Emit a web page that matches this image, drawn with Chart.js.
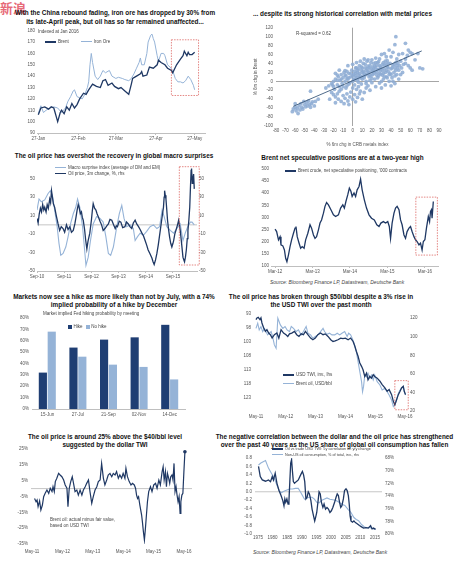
<!DOCTYPE html>
<html><head><meta charset="utf-8">
<script src="https://cdn.jsdelivr.net/npm/chart.js@4.4.1/dist/chart.umd.min.js"></script>
<style>
body{margin:0;width:457px;height:565px;background:#fff;position:relative;overflow:hidden;font-family:'Liberation Sans',Arial,sans-serif;}
canvas{position:absolute;}
.t{position:absolute;font-weight:bold;font-size:6.4px;line-height:8.5px;text-align:center;color:#111;white-space:nowrap;}
.s{position:absolute;font-size:4.5px;line-height:5.5px;color:#444;white-space:nowrap;}
.src{position:absolute;font-style:italic;font-size:5px;color:#444;white-space:nowrap;}
.sw{display:inline-block;width:11px;height:1.2px;vertical-align:middle;margin-right:2px;}
.sq{display:inline-block;width:4px;height:4px;vertical-align:middle;margin-right:1.5px;}
.wm{position:absolute;left:0;top:-2px;font-family:'Noto Sans CJK SC';font-weight:bold;font-size:13px;color:rgba(220,40,60,0.7);}
</style></head><body>
<div class="wm">新浪</div>

<div class="t" style="left:0;top:9px;width:230px">With the China rebound fading, iron ore has dropped by 30% from<br>its late-April peak, but oil has so far remained unaffected...</div>
<div class="t" style="left:228px;top:10px;width:229px">... despite its strong historical correlation with metal prices</div>
<div class="t" style="left:0;top:152px;width:228px">The oil price has overshot the recovery in global macro surprises</div>
<div class="t" style="left:228px;top:154px;width:229px">Brent net speculative positions are at a two-year high</div>
<div class="t" style="left:0;top:292.5px;width:228px">Markets now see a hike as more likely than not by July, with a 74%<br>implied probability of a hike by December</div>
<div class="t" style="left:228px;top:292.5px;width:186px">The oil price has broken through $50/bbl despite a 3% rise in<br>the USD TWI over the past month</div>
<div class="t" style="left:0;top:432.5px;width:210px">The oil price is around 25% above the $40/bbl level<br>suggested by the dollar TWI</div>
<div class="t" style="left:212px;top:432.5px;width:245px">The negative correlation between the dollar and the oil price has strengthened<br>over the past 40 years as the US share of global oil consumption has fallen</div>

<canvas id="c1" width="228" height="119" style="left:0;top:26px"></canvas>
<canvas id="c2" width="229" height="126" style="left:228px;top:22px"></canvas>
<canvas id="c3" width="228" height="121" style="left:0;top:162px"></canvas>
<canvas id="c4" width="229" height="115" style="left:228px;top:163px"></canvas>
<canvas id="c5" width="228" height="109" style="left:0;top:312px"></canvas>
<canvas id="c6" width="229" height="116" style="left:228px;top:308px"></canvas>
<canvas id="c7" width="228" height="113" style="left:0;top:443px"></canvas>
<canvas id="c8" width="229" height="93" style="left:228px;top:452px"></canvas>

<div class="s" style="left:38px;top:29px">Indexed at Jan 2016</div>
<div class="s" style="left:45px;top:39px"><span class="sw" style="background:#1f3864;height:1.6px"></span>Brent<span style="display:inline-block;width:12px"></span><span class="sw" style="background:#95b3d7"></span>Iron Ore</div>
<div class="s" style="left:296px;top:31px">R-squared = 0.62</div>
<div class="s" style="left:55px;top:165px"><span class="sw" style="background:#95b3d7"></span>Macro surprise index (average of DM and EM)<br><span class="sw" style="background:#1f3864;height:1.6px"></span>Oil price, 3m change, %, rhs</div>
<div class="s" style="left:285px;top:168px"><span class="sw" style="background:#1f3864;height:1.6px"></span>Brent crude, net speculative positioning, '000 contracts</div>
<div class="src" style="left:270px;top:279px">Source: Bloomberg Finance LP, Datastream, Deutsche Bank</div>
<div class="s" style="left:43px;top:311px">Market implied Fed hiking probability by meeting</div>
<div class="s" style="left:68px;top:324px"><span class="sq" style="background:#1f3e73"></span>Hike <span class="sq" style="background:#95b3d7;margin-left:2px"></span>No hike</div>
<div class="s" style="left:283px;top:372px"><span class="sw" style="background:#1f3864;height:1.6px"></span>USD TWI, inv., lhs</div>
<div class="s" style="left:283px;top:381px"><span class="sw" style="background:#95b3d7"></span>Brent oil, USD/bbl</div>
<div class="s" style="left:50px;top:517px">Brent oil: actual minus fair value,<br>based on USD TWI</div>
<div class="s" style="left:272px;top:447px;font-size:3.8px;line-height:5.5px"><span class="sw" style="background:#1f3864;height:1.6px"></span>Oil vs trade USD TWI: 5y correlation on y/y change<br><span class="sw" style="background:#95b3d7"></span>Non-US oil consumption, % of total, inv., rhs</div>
<div class="src" style="left:253px;top:548.5px">Source: Bloomberg Finance LP, Datastream, Deutsche Bank</div>

<script>
// ---------- data ----------
// 1. Brent vs iron ore, days since 27-Jan-2016
const p1Ticks = [0, 31, 60, 91, 121];
const p1TickLabels = ['27-Jan', '27-Feb', '27-Mar', '27-Apr', '27-May'];
const p1Brent = [[0,106],[2,112],[5,113],[8,111],[10,113],[12,112],[13,108],[14,104],[15,100],[17,108],[18,110],[20,107],[22,113],[24,110],[26,116],[28,112],[30,115],[32,120],[35,125],[37,124],[39,128],[42,133],[45,131],[48,130],[50,136],[52,137],[54,132],[57,134],[59,131],[62,129],[64,130],[67,127],[70,124],[72,133],[73,138],[76,140],[79,142],[80,144],[81,140],[84,141],[86,148],[89,147],[92,150],[93,154],[95,152],[98,150],[100,147],[103,145],[104,143],[107,150],[110,155],[112,158],[113,162],[115,158],[116,161],[117,159],[119,159],[121,161]];
const p1IronOre = [[0,107],[2,114],[4,108],[6,110],[9,112],[12,113],[15,112],[18,108],[21,112],[23,118],[25,122],[27,127],[28,128],[30,122],[32,121],[34,120],[36,124],[38,130],[39,135],[40,150],[41,160],[42,152],[44,140],[46,137],[48,140],[50,145],[52,143],[55,145],[57,140],[60,138],[62,139],[65,138],[67,137],[70,136],[72,138],[74,142],[76,147],[78,152],[79,156],[80,150],[82,150],[84,160],[85,170],[87,176],[88,177],[89,173],[90,170],[92,158],[93,153],[95,160],[97,160],[98,158],[100,150],[102,148],[104,145],[106,138],[108,135],[110,135],[112,134],[114,136],[116,140],[118,137],[120,132],[121,128]];
const p1Box = [103, 124, 123, 172];

// 2. 6m change: CRB metals (x) vs Brent (y)
const p2Points = [[-62,-62],[-60,-58],[-59,-66],[-58,-60],[-57,-72],[-56,-55],[-55,-64],[-54,-50],[-53,-58],[-52,-62],[-51,-45],[-50,-52],[-49,-57],[-48,-48],[-47,-55],[-46,-44],[-45,-52],[-44,-58],[-43,-50],[-42,-46],[-40,-55],[-39,-45],[-60,-50],[-63,-68],[-44,-22],[-36,-40],
[-22,-25],[-20,-30],[-18,-35],[-16,-28],[-15,-40],[-14,-22],[-12,-45],[-10,-32],[-9,-50],[-8,-38],[-6,-28],[-5,-44],[-4,-52],[-3,-35],[-2,-24],[0,-40],[2,-30],[3,-46],[5,-36],[7,-28],[-18,-48],[-24,-40],[-12,-18],[-7,-15],[10,-40],[12,-25],[-28,-15],[-25,-10],[-20,-12],
[-22,-5],[-20,0],[-18,5],[-16,-8],[-15,10],[-13,2],[-12,15],[-11,-5],[-10,8],[-9,20],[-8,0],[-7,12],[-6,-10],[-5,5],[-4,18],[-3,-3],[-2,10],[-1,25],[0,0],[1,15],[2,-8],[3,30],[4,8],[5,20],[6,-2],[7,35],[8,12],[9,25],[10,5],[11,40],[12,18],[13,30],[14,-5],[15,45],[16,22],[17,10],[18,35],[19,28],[20,48],[21,15],[22,40],[23,5],[24,30],[25,20],[26,42],[27,12],[28,35],[29,25],[30,0],[31,38],[32,18],[33,28],[34,45],[35,10],[36,32],[37,22],[38,15],[39,40],[40,28],[41,8],[42,35],[43,20],[44,-5],[45,42],[46,15],[47,30],[48,25],[12,50],[16,48],[8,45],[4,42],[24,52],[28,50],[35,55],[38,70],[30,60],[-14,25],[-18,18],[-5,35],[0,38],[10,30],[20,22],[26,8],[34,-8],[38,0],[42,0],[14,0],[6,28],[18,2],[22,28],[2,22],[-6,22],[32,5],[40,-10],[44,12],[48,5],[50,15],
[1,5],[3,12],[5,2],[7,18],[9,8],[11,22],[13,14],[15,28],[17,20],[19,12],[21,32],[23,22],[25,36],[27,26],[29,16],[31,24],[33,10],[35,38],[37,30],[-4,8],[-8,14],[-12,5],[-16,2],[6,-12],[9,-6],[16,-10],[20,-3],[28,-4],
[3,18],[5,25],[7,8],[9,32],[11,12],[13,38],[15,16],[17,30],[19,42],[21,24],[23,34],[25,14],[27,44],[29,32],[31,14],[33,36],[35,24],[37,40],[39,18],[41,30],[43,38],[45,25],[47,40],[18,14],[20,6],[22,18],[24,42],[26,26],[28,18],[30,30],[32,42],[34,20],[36,46],[10,20],[12,8],[14,24],[16,34],[6,14],[4,30],[2,4],[0,12],[-2,18],[-4,-6],[-6,6],[-8,24],[-10,-12],[-14,-12],[-16,14],[-19,-18],[-21,-8],[0,-15],[4,-18],[8,-22],[14,-15],[18,-20],[24,-12],[30,-15],[36,8],[40,15],[44,30],[46,35],[49,35],[51,30],[53,38],
[45,100],[44,82],[55,85],[52,62],[57,58],[60,65],[58,70],[62,62],[55,50],[65,48],[58,35],[60,30],[62,25],[70,30],[73,28],[55,40],[52,20],[50,45],[68,62],[48,60],[42,65],[33,62],[40,55],[46,50]];
const p2Trend = [[-62,-56],[72,68]];

// 3. months since Sep-10
const p3Ticks = [0, 12, 24, 36, 48, 60];
const p3TickLabels = ['Sep-10', 'Sep-11', 'Sep-12', 'Sep-13', 'Sep-14', 'Sep-15'];
const p3ValTicks = [-50, -30, -10, 10, 30, 50];
const p3Oil = [[0,7],[0.5,2],[1,12],[1.5,18],[2,14],[2.5,22],[3,16],[3.4,19],[4,14],[4.5,22],[5,18],[5.6,28],[6,24],[6.4,37],[6.8,30],[7.2,23],[7.8,19],[8.5,10],[9.3,1],[10,-6],[10.7,-2],[11.5,-4],[12.2,-8],[13,0],[13.7,-5],[14.5,-2],[15.2,-8],[16,-6],[16.7,1],[17.2,8],[17.7,16],[18.2,22],[18.6,19],[19.1,12],[19.6,14],[20,8],[20.4,5],[21,-5],[21.5,-17],[22,-26],[22.5,-18],[23.3,-9],[24,5],[24.4,15],[24.8,23],[25.4,18],[26,16],[26.5,12],[27,9],[27.8,4],[28.5,0],[29.2,-6],[30,-4],[30.8,-1],[31.5,1],[32.2,6],[33,5],[33.8,0],[34.5,-4],[35,-1],[35.5,-2],[36.3,4],[37,3],[37.8,-3],[38.8,-2],[39.5,3],[40.3,1],[41,-2],[41.8,-4],[42.5,2],[43.3,5],[44,1],[44.8,-2],[45.5,-5],[46.3,-9],[47,-12],[47.7,-17],[48.4,-22],[49,-27],[49.8,-31],[50.7,-36],[51.2,-40],[51.7,-43],[52.3,-38],[52.9,-31],[53.5,-22],[54,-13],[54.5,-4],[55,5],[55.4,12],[55.8,19],[56.1,30],[56.3,37],[56.6,32],[56.9,28],[57.3,15],[57.6,5],[58,-4],[58.5,-13],[59,-20],[59.5,-24],[60,-20],[60.3,-17],[60.8,-10],[61.3,-6],[62,0],[62.5,5],[63.2,-6],[63.8,-20],[64.4,-35],[64.8,-38],[65.1,-40],[65.5,-35],[65.9,-27],[66.3,-15],[66.6,-6],[67,5],[67.4,19],[67.7,40],[68,59],[68.2,61],[68.5,45],[68.8,50],[69.1,55],[69.4,39]];
const p3Surprise = [[0,16],[0.9,28],[1.9,25],[3.4,27],[4.9,34],[5.9,37],[6.8,32],[7.8,16],[8.9,-2],[9.7,-20],[10.5,-33],[11.5,-31],[12.7,-24],[13.7,-13],[14.8,1],[16,12],[17.1,19],[17.9,28],[18.9,19],[20.1,-2],[21,-27],[21.6,-44],[22.6,-35],[23.6,-17],[24.8,1],[26.3,9],[27.8,7],[29.2,3],[30.4,-13],[31.5,-31],[32.5,-33],[33.7,-24],[35.2,-2],[36.3,12],[37.4,21],[38.4,7],[39.6,-2],[41.1,0],[42.5,-4],[43.3,-17],[44.3,-13],[45.5,-9],[47,-11],[48.4,-7],[49.9,-2],[51.4,0],[52.9,-4],[54.1,-2],[55.2,16],[56.1,9],[57.3,-2],[58.8,-6],[60.3,-9],[61.7,-4],[63.2,1],[64.4,-17],[65.4,-9],[66.5,-2],[67.7,3],[68.4,3],[69.4,0]];
const p3Box = [62.8, 71.6, -43.5, 63];

// 4. months since Mar-12, '000 contracts
const p4Ticks = [0, 12, 24, 36, 48];
const p4TickLabels = ['Mar-12', 'Mar-13', 'Mar-14', 'Mar-15', 'Mar-16'];
const p4Spec = [[0,252],[0.5,242],[1.1,208],[1.6,221],[1.9,187],[2.5,183],[3,166],[3.4,132],[3.8,118],[4.3,146],[4.8,180],[5.3,208],[5.9,235],[6.4,256],[6.7,263],[7.1,221],[7.7,194],[8.2,173],[8.7,180],[9.3,173],[9.8,208],[10.5,235],[11.2,270],[11.7,256],[12.3,228],[12.8,214],[13.3,221],[13.9,249],[14.4,277],[14.9,290],[15.5,318],[16,346],[16.5,362],[17.1,352],[17.9,332],[18.7,311],[19.4,304],[20.3,311],[21,339],[21.7,352],[22.2,339],[22.7,366],[23.3,394],[23.8,421],[24.3,408],[24.7,387],[25.3,401],[25.8,387],[26.3,414],[26.9,428],[27.4,458],[27.9,414],[28.6,373],[29.3,339],[30.1,311],[30.9,297],[31.8,290],[32.6,270],[33.3,263],[33.9,277],[34.7,283],[35.4,277],[36.1,283],[36.6,263],[37,214],[37.5,277],[38.1,318],[38.6,339],[39.1,346],[39.7,332],[40.2,290],[40.7,270],[41.3,228],[41.8,214],[42.3,242],[42.9,256],[43.4,263],[43.9,242],[44.5,221],[45,208],[45.5,201],[46.1,187],[46.6,194],[47.1,166],[47.5,201],[48,208],[48.5,256],[49.1,304],[49.5,283],[49.8,325],[50.1,332],[50.3,297],[50.7,366]];
const p4Box = [45.1, 52, 145, 384];

// 5. Fed meetings
const p5Meetings = ['15-Jun', '27-Jul', '21-Sep', '02-Nov', '14-Dec'];
const p5Hike = [32, 54, 61, 63, 74];
const p5NoHike = [68, 46, 39, 37, 26];

// 6. months since May-11
const p6Ticks = [0, 12, 24, 36, 48, 60];
const p6TickLabels = ['May-11', 'May-12', 'May-13', 'May-14', 'May-15', 'May-16'];
const p6TwiTicks = [93, 98, 103, 108, 113, 118, 123];
const p6BrentTicks = [20, 40, 60, 80, 100, 120];
const p6Twi = [[0,95],[0.4,94.4],[0.9,94.2],[1.6,95],[2,94.4],[2.4,96.2],[3.1,98],[3.8,99.2],[4.4,98.6],[5.1,99.8],[5.8,100.4],[6.5,101.6],[7.4,100.4],[8.4,99.8],[9.2,101.6],[10.1,98.6],[11.1,99.8],[12.1,100.4],[12.8,101],[13.5,100.1],[14.4,99.8],[15.5,99.2],[16.4,100.4],[17.3,101],[18.2,100.1],[19.1,100.4],[19.9,99.2],[20.9,100.4],[22,101.6],[22.9,102.2],[23.9,101.6],[24.9,100.4],[26,99.8],[27,100.4],[27.9,100.1],[29,101],[30.1,102.2],[31,102.8],[31.9,102.6],[33,102.2],[34.1,101.6],[35,101.8],[36,101.6],[37.1,102.2],[38.1,101.6],[39.1,102.8],[39.8,104.5],[40.4,106.3],[41.1,108.1],[41.8,110.5],[42.5,111.7],[43.1,112.9],[43.8,115.3],[44.5,114.1],[45.1,116.5],[45.8,115.3],[46.5,115.9],[47.2,114.7],[47.8,115.3],[48.8,115.9],[49.9,117],[50.8,118.2],[51.9,119.4],[52.8,120.6],[53.6,120],[54.6,121.8],[55.3,124.2],[55.9,125.4],[56.6,123.6],[57.3,121.8],[58,120.6],[58.6,119.4],[59.3,118.8],[59.7,120.6],[60.2,121.8]];
const p6Brent = [[0,109],[0.7,114.6],[1.3,107.4],[2,111],[2.7,105.6],[3.4,109],[4,105.6],[4.7,102],[5.4,103.8],[6.1,105.6],[6.7,100.2],[7.4,91.2],[8.1,87.6],[8.8,120],[9.8,112.8],[10.8,109],[11.7,111],[12.5,107.4],[13.5,105.6],[14.2,111],[15.1,109],[16.2,105.6],[17.1,107.4],[18.2,102],[19.1,105.6],[20.2,111],[20.9,103.8],[22,102],[22.9,98.4],[23.9,100.2],[24.9,102],[26,105.6],[27,109],[27.6,105.6],[28.6,102.7],[29.6,103.8],[30.6,102],[31.7,102],[32.7,103.8],[33.7,102],[34.6,103.8],[35.7,105.6],[36.7,100.2],[37.3,103.8],[38.1,102],[38.7,98.4],[39.5,93],[40.4,84],[41.1,73.2],[41.8,62.4],[42.5,51.7],[42.9,40.9],[43.3,46.3],[43.8,58.8],[44.5,57],[45.1,60.6],[45.8,55.3],[46.5,58.8],[47.2,53.5],[47.8,58.8],[48.8,51.7],[49.9,48.1],[50.8,42.7],[51.9,44.5],[52.8,40.9],[53.6,37.3],[54.6,31.9],[55.3,24.7],[55.9,26.5],[56.6,31.9],[57.3,39.1],[58,42.7],[58.6,44.5],[59.3,46.3],[59.7,40.9],[60.2,37.3]];
const p6Box = [55.9, 61.3, 116.8, 127.2];

// 7. months since May-11, % gap
const p7Ticks = [0, 12, 24, 36, 48, 60];
const p7TickLabels = ['May-11', 'May-12', 'May-13', 'May-14', 'May-15', 'May-16'];
const p7Gap = [[1,-6.2],[1.6,-8.3],[2,-7.2],[2.4,-11.4],[3,-7.8],[3.5,-13.5],[4.1,-10.4],[4.6,-5.1],[5.2,-3],[5.9,-0.9],[6.6,-3],[7.2,0.2],[7.9,-1.9],[8.3,1.2],[8.8,-1.9],[9.2,4.4],[9.8,6.5],[10.5,9.6],[11.1,8.6],[11.8,7.5],[12.5,5.4],[13.1,2.3],[13.8,0.2],[14.2,-11.4],[14.7,0.2],[15.3,4.4],[15.9,7.5],[16.4,3.3],[17,-1.9],[17.7,-0.9],[18.3,-4.1],[19,-0.9],[19.7,-4.1],[20.3,-0.9],[21,1.2],[21.6,3.3],[22.3,5.4],[22.9,-1.9],[23.6,-9.3],[24.2,-5.1],[24.9,-0.9],[25.6,1.2],[26.2,4.4],[26.9,5.4],[27.5,15.9],[28.2,6.5],[28.8,2.3],[29.5,5.4],[30.1,8.6],[30.8,9.6],[31.5,7.5],[32.1,9.6],[32.8,8.6],[33.4,10.7],[34.1,6.5],[34.7,8.6],[35.4,6.5],[36,9.6],[36.7,6.5],[37.1,12.8],[37.7,7.5],[38.4,4.4],[39.1,2.3],[39.7,3.3],[40.4,2.3],[40.9,0.2],[41.3,-4.1],[41.7,-6.2],[42.1,-5.1],[42.6,-10.4],[43.3,-16.7],[43.6,-20.9],[44,-27.2],[44.4,-32.5],[44.8,-25.1],[45.2,-16.7],[45.6,-8.3],[46.1,-1.9],[46.8,1.2],[47.4,-1.9],[48.1,2.3],[48.8,3.3],[49.4,0.2],[50.1,5.4],[50.7,2.3],[51.4,10.7],[51.8,13.8],[52.2,5.4],[52.7,10.7],[53.1,1.2],[53.5,9.6],[54,6.5],[54.4,3.3],[54.8,7.5],[55.3,8.6],[55.7,5.4],[56.1,15.9],[56.5,-1.9],[56.9,1.2],[57.3,-4.1],[57.7,-8.3],[58.1,-5.1],[58.5,-15.6],[58.8,-8.3],[59.2,-4.1],[59.6,-3],[60,10.7],[60.4,23.3]];

// 8. years
const p8YearTicks = [1975, 1980, 1985, 1990, 1995, 2000, 2005, 2010, 2015];
const p8YearLabels = ['1975', '1980', '1985', '1990', '1995', '2000', '2005', '2010', '2015'];
const p8CorrTicks = [0.8, 0.6, 0.4, 0.2, 0, -0.2, -0.4, -0.6, -0.8, -1];
const p8ShareTicks = [68, 70, 72, 74, 76, 78, 80];
const p8Corr = [[1975.2,0.6],[1975.8,0.36],[1976.5,0.28],[1977.6,0.25],[1978.6,0.28],[1979.3,0.24],[1979.9,0.36],[1980.3,0.28],[1980.9,0.44],[1981.5,0.2],[1982.2,0.03],[1982.9,-0.09],[1983.5,-0.21],[1983.9,-0.33],[1984.2,-0.17],[1984.5,-0.25],[1984.9,-0.17],[1985.3,-0.29],[1985.6,-0.21],[1985.9,0.24],[1986.2,0.68],[1986.5,0.76],[1986.8,0.48],[1987.1,0.24],[1987.5,0.2],[1988.1,0.24],[1988.8,0.28],[1989.6,0.4],[1990.2,0.48],[1990.6,0.4],[1991,0.24],[1991.4,-0.17],[1991.8,-0.13],[1992.2,0],[1992.6,-0.05],[1993.1,-0.21],[1993.5,-0.41],[1994,-0.57],[1994.4,-0.69],[1994.7,-0.61],[1995.1,-0.49],[1995.5,-0.25],[1995.9,0],[1996.3,-0.05],[1996.7,-0.25],[1997.2,-0.37],[1997.6,-0.29],[1998.1,-0.41],[1998.6,-0.37],[1999.1,-0.41],[1999.6,-0.49],[2000.1,-0.45],[2000.6,-0.37],[2001.2,-0.25],[2001.7,-0.13],[2002.1,-0.05],[2002.5,-0.09],[2002.9,-0.25],[2003.3,-0.37],[2003.7,-0.33],[2004.2,-0.17],[2004.6,0.03],[2005.1,0.07],[2005.5,0.03],[2005.9,-0.09],[2006.2,-0.29],[2006.5,-0.57],[2006.8,-0.69],[2007.3,-0.72],[2007.8,-0.69],[2008.3,-0.73],[2008.8,-0.75],[2009.7,-0.8],[2010.4,-0.83],[2011.1,-0.86],[2011.9,-0.85],[2012.7,-0.86],[2013.5,-0.8],[2014,-0.88],[2014.5,-0.86],[2015.2,-0.89]];
const p8Share = [[1975.2,69.1],[1976,68.8],[1976.8,68.6],[1977.6,68.4],[1978.6,69.6],[1979.6,70.4],[1980.6,71.2],[1981.5,72.3],[1982.2,73.1],[1983,73.5],[1983.7,73.3],[1984.7,73.1],[1985.8,72.9],[1986.8,72.9],[1987.8,72.8],[1988.8,72.8],[1989.6,73.4],[1990.2,73.9],[1990.9,74.5],[1991.6,74.4],[1992.4,74.2],[1993.5,74.2],[1994.3,74.5],[1995.1,75],[1995.9,75.1],[1996.7,74.7],[1997.6,74.5],[1998.6,74.3],[1999.6,74.5],[2000.6,74.6],[2001.7,74.7],[2002.7,75],[2003.7,75.3],[2004.7,75.5],[2005.8,76.1],[2006.8,76.6],[2007.8,77.4],[2008.6,77.7],[2009.4,77.9],[2010.4,78.5],[2011.4,78.9],[2012.4,79],[2013.5,79],[2014.5,79.2],[2015.2,79.2]];

// ---------- styling ----------
const dark = '#1f3864', light = '#95b3d7', grey = '#bfbfbf', red = '#d9534f';

Chart.defaults.font.family = "'Liberation Sans', Arial, sans-serif";
Chart.defaults.font.size = 4.5;
Chart.defaults.color = '#555';
Chart.defaults.animation = false;
Chart.defaults.responsive = false;
Chart.defaults.plugins.legend.display = false;
Chart.defaults.plugins.tooltip.enabled = false;
Chart.defaults.elements.point.radius = 0;
Chart.defaults.elements.line.tension = 0;

// zero line under the data, dashed red box over it
Chart.register({
  id: 'extras',
  beforeDatasetsDraw(chart, args, o) {
    if (!o.zero) return;
    const { ctx, chartArea: a } = chart;
    const y = chart.scales[o.zero].getPixelForValue(0);
    ctx.save();
    ctx.strokeStyle = '#b8b8b8';
    ctx.lineWidth = 0.8;
    ctx.beginPath(); ctx.moveTo(a.left, y); ctx.lineTo(a.right, y); ctx.stroke();
    ctx.restore();
  },
  afterDatasetsDraw(chart, args, o) {
    if (!o.box) return;
    const { ctx } = chart;
    const xs = chart.scales.x, ys = chart.scales[o.boxAxis || 'y'];
    const x0 = xs.getPixelForValue(o.box[0]), x1 = xs.getPixelForValue(o.box[1]);
    const y0 = ys.getPixelForValue(o.box[2]), y1 = ys.getPixelForValue(o.box[3]);
    ctx.save();
    ctx.strokeStyle = red;
    ctx.lineWidth = 0.7;
    ctx.setLineDash([1.5, 1.2]);
    ctx.strokeRect(Math.min(x0, x1), Math.min(y0, y1), Math.abs(x1 - x0), Math.abs(y1 - y0));
    ctx.restore();
  }
});

const xy = a => a.map(([x, y]) => ({ x, y }));
const noGrid = { display: false, drawTicks: false };

function dateAxis(min, max, ticks, labels, h, plain, pad) {
  return {
    type: 'linear', min, max,
    afterBuildTicks: s => { s.ticks = ticks.map(v => ({ value: v })); },
    afterFit: s => { s.height = h; },
    ticks: { autoSkip: false, maxRotation: 0, padding: pad || 1, callback: v => labels[ticks.indexOf(v)] },
    grid: plain ? noGrid : { drawOnChartArea: false, tickLength: 2, color: grey },
    border: plain ? { display: false } : { color: grey }
  };
}

function valAxis(min, max, ticks, w, extra) {
  return Object.assign({
    type: 'linear', min, max,
    afterBuildTicks: s => { s.ticks = ticks.map(v => ({ value: v })); },
    afterFit: s => { s.width = w; },
    ticks: { padding: 2 },
    grid: noGrid,
    border: { display: false }
  }, extra || {});
}

function line(data, color, width, axis) {
  return { data: xy(data), borderColor: color, borderWidth: width, yAxisID: axis || 'y', pointRadius: 0, parsing: false };
}

// 1
new Chart(document.getElementById('c1'), {
  type: 'line',
  data: { datasets: [line(p1Brent, dark, 1.3), line(p1IronOre, light, 1)] },
  options: {
    layout: { padding: { top: 4, right: 23 } },
    scales: {
      x: dateAxis(-1, 129, p1Ticks, p1TickLabels, 12),
      y: valAxis(90, 180, [90, 100, 110, 120, 130, 140, 150, 160, 170, 180], 37)
    },
    plugins: { extras: { box: p1Box } }
  }
});

// 2
const zeroGrid = c => (c.tick && c.tick.value === 0 ? '#a6a6a6' : 'rgba(0,0,0,0)');
new Chart(document.getElementById('c2'), {
  type: 'scatter',
  data: {
    datasets: [
      { data: xy(p2Trend), showLine: true, borderColor: '#3c5a7d', borderWidth: 0.9, pointRadius: 0 },
      { data: xy(p2Points), pointRadius: 1.9, backgroundColor: 'rgba(141,171,212,0.85)', borderWidth: 0 }
    ]
  },
  options: {
    layout: { padding: { top: 5, right: 18, left: 24 } },
    scales: {
      x: {
        type: 'linear', min: -80, max: 90,
        afterFit: s => { s.height = 22; },
        ticks: { stepSize: 10, maxRotation: 0, autoSkip: false, padding: 2 },
        grid: { color: zeroGrid, drawTicks: false },
        border: { display: false },
        title: { display: true, text: '% 6m chg in CRB metals index', padding: 1, font: { size: 4.5 } }
      },
      y: {
        type: 'linear', min: -100, max: 120,
        afterFit: s => { s.width = 24; },
        ticks: { stepSize: 20, padding: 3 },
        grid: { color: zeroGrid, drawTicks: false },
        border: { display: false },
        title: { display: true, text: '% 6m chg in Brent', padding: 1, font: { size: 4.5 } }
      }
    }
  }
});

// 3
new Chart(document.getElementById('c3'), {
  type: 'line',
  data: { datasets: [line(p3Oil, dark, 1.3, 'y2'), line(p3Surprise, light, 1.1)] },
  options: {
    layout: { padding: { top: 4 } },
    scales: {
      x: dateAxis(0, 70.6, p3Ticks, p3TickLabels, 12),
      y: valAxis(-50, 63, p3ValTicks, 37),
      y2: valAxis(-50, 63, p3ValTicks, 31, { position: 'right' })
    },
    plugins: { extras: { zero: 'y', box: p3Box } }
  }
});

// 4
new Chart(document.getElementById('c4'), {
  type: 'line',
  data: { datasets: [line(p4Spec, dark, 1.3)] },
  options: {
    layout: { padding: { top: 6, right: 19 } },
    scales: {
      x: dateAxis(-1.3, 52.2, p4Ticks, p4TickLabels, 12),
      y: valAxis(100, 500, [100, 150, 200, 250, 300, 350, 400, 450, 500], 43)
    },
    plugins: { extras: { box: p4Box } }
  }
});

// 5
new Chart(document.getElementById('c5'), {
  type: 'bar',
  data: {
    labels: p5Meetings,
    datasets: [
      { label: 'Hike', data: p5Hike, backgroundColor: '#1f3e73', categoryPercentage: 0.58, barPercentage: 0.92 },
      { label: 'No hike', data: p5NoHike, backgroundColor: '#95b3d7', categoryPercentage: 0.58, barPercentage: 0.92 }
    ]
  },
  options: {
    layout: { padding: { top: 6, right: 43 } },
    scales: {
      x: {
        afterFit: s => { s.height = 12; },
        ticks: { maxRotation: 0, padding: 3 },
        grid: noGrid,
        border: { color: grey }
      },
      y: valAxis(0, 80, [0, 10, 20, 30, 40, 50, 60, 70, 80], 32, {
        ticks: { padding: 3, callback: v => v + '%' }
      })
    }
  }
});

// 6
new Chart(document.getElementById('c6'), {
  type: 'line',
  data: { datasets: [line(p6Twi, dark, 1.3), line(p6Brent, light, 1.1, 'y2')] },
  options: {
    layout: { padding: { top: 6, right: 27 } },
    scales: {
      x: dateAxis(-1.2, 61.2, p6Ticks, p6TickLabels, 12, true, 2.5),
      y: valAxis(93, 128, p6TwiTicks, 25, { reverse: true }),
      y2: valAxis(19, 124.5, p6BrentTicks, 22, { position: 'right' })
    },
    plugins: { extras: { box: p6Box } }
  }
});

// 7
const p7Last = p7Gap.length - 1;
new Chart(document.getElementById('c7'), {
  type: 'line',
  data: {
    datasets: [Object.assign(line(p7Gap, dark, 1.2), {
      pointRadius: c => (c.dataIndex === p7Last ? 1.8 : 0),
      pointBackgroundColor: dark, pointBorderWidth: 0
    })]
  },
  options: {
    layout: { padding: { top: 6, right: 36 } },
    scales: {
      x: dateAxis(-0.4, 63.2, p7Ticks, p7TickLabels, 12, true, 5),
      y: valAxis(-35, 25, [-35, -25, -15, -5, 5, 15, 25], 31, {
        ticks: { padding: 3, callback: v => v + '%' }
      })
    },
    plugins: { extras: { zero: 'y' } }
  }
});

// 8
new Chart(document.getElementById('c8'), {
  type: 'line',
  data: { datasets: [line(p8Corr, dark, 1.3), line(p8Share, light, 1.1, 'y2')] },
  options: {
    layout: { padding: { top: 6, right: 50 } },
    scales: {
      x: dateAxis(1974, 2017.4, p8YearTicks, p8YearLabels, 11, true, 1.5),
      y: valAxis(-1, 0.8, p8CorrTicks, 27, { ticks: { padding: 3, callback: v => v.toFixed(1) } }),
      y2: valAxis(68, 80, p8ShareTicks, 25, { position: 'right', reverse: true, ticks: { padding: 3, callback: v => v + '%' } })
    },
    plugins: { extras: { zero: 'y' } }
  }
});
</script>
</body></html>
